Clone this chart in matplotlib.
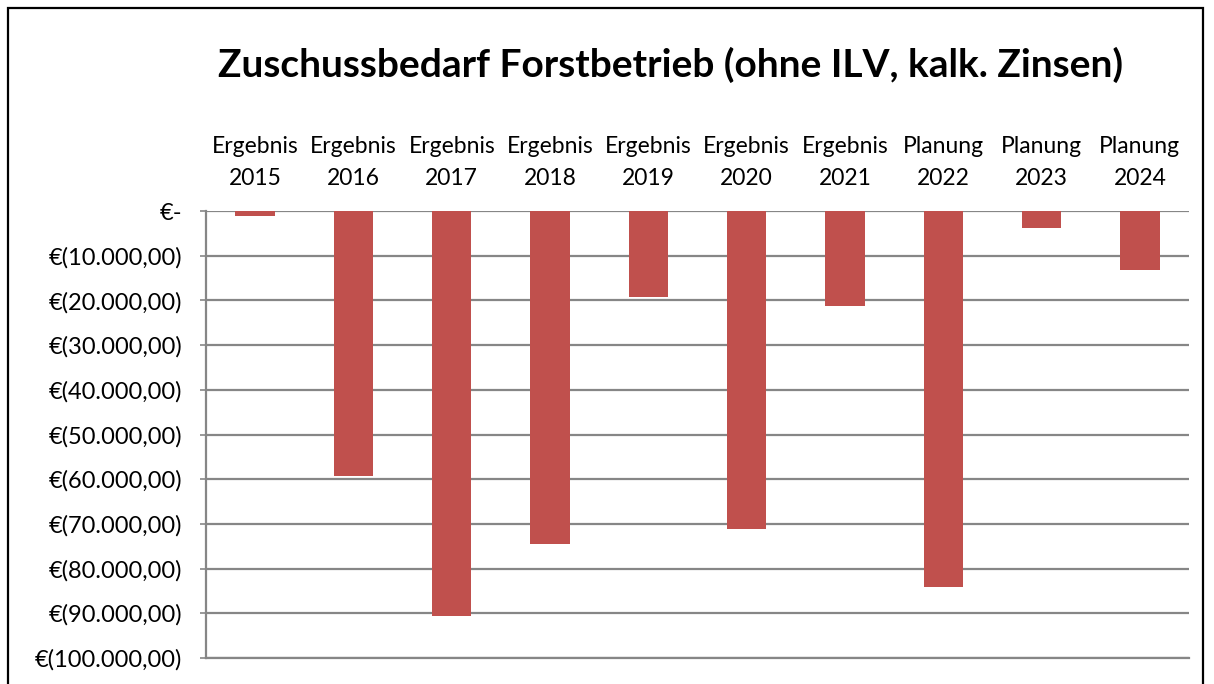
import matplotlib
matplotlib.use("Agg")
import matplotlib.pyplot as plt
from matplotlib.ticker import FuncFormatter, MultipleLocator
from matplotlib.patches import Rectangle

categories = ["Ergebnis\n2015", "Ergebnis\n2016", "Ergebnis\n2017", "Ergebnis\n2018",
              "Ergebnis\n2019", "Ergebnis\n2020", "Ergebnis\n2021", "Planung\n2022",
              "Planung\n2023", "Planung\n2024"]
values = [-1100, -59300, -90700, -74400, -19200, -71200, -21300, -84200, -3900, -13200]
title = "Zuschussbedarf Forstbetrieb (ohne ILV, kalk. Zinsen)"

FONT = "Lato"
W, H = 1214, 684
fig = plt.figure(figsize=(W / 100, H / 100), dpi=100)
fig.patch.set_facecolor("white")

# outer chart border (open at bottom)
fig.add_artist(Rectangle((8 / W, -0.05), (1203 - 8) / W, 1.05 - 8 / H,
                         transform=fig.transFigure, fill=False,
                         edgecolor="black", linewidth=1.6))

left, right, top, bottom = 206, 1189, 211, 658
ax = fig.add_axes([left / W, 1 - bottom / H, (right - left) / W, (bottom - top) / H])

x = range(len(categories))
ax.bar(x, values, width=0.4, color="#C0504D", zorder=3)

ax.set_xlim(-0.5, len(categories) - 0.5)
ax.set_ylim(-100000, 0)
ax.yaxis.set_major_locator(MultipleLocator(10000))

def fmt(v, pos):
    if abs(v) < 1e-6:
        return "€-"
    s = f"{abs(v):,.2f}".replace(",", "X").replace(".", ",").replace("X", ".")
    return f"€({s})"

ax.yaxis.set_major_formatter(FuncFormatter(fmt))
ax.grid(axis="y", color="#868686", linewidth=1.6, zorder=0)
ax.set_axisbelow(True)

ax.xaxis.tick_top()
ax.set_xticks(list(x))
ax.set_xticklabels(categories, fontsize=16.5, family=FONT, linespacing=1.62)
ax.tick_params(axis="x", length=0, pad=16)
ax.tick_params(axis="y", length=4, color="#868686", width=1.2, pad=13, labelsize=17)
for lbl in ax.get_yticklabels():
    lbl.set_family(FONT)

for s in ["right", "top"]:
    ax.spines[s].set_visible(False)
ax.spines["left"].set_color("#868686")
ax.spines["left"].set_linewidth(1.6)
ax.spines["bottom"].set_color("#868686")
ax.spines["bottom"].set_linewidth(1.6)

fig.text(671 / W, 1 - 65 / H, title, ha="center", va="center",
         fontsize=28, fontweight="bold", family=FONT)

fig.savefig("out.png", dpi=100)
